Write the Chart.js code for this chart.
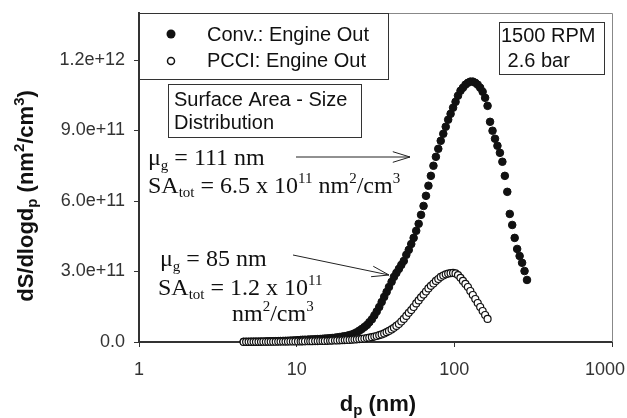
<!DOCTYPE html>
<html>
<head>
<meta charset="utf-8">
<script src="https://cdn.jsdelivr.net/npm/chart.js@4"></script>
<style>
  body { margin: 0; background: #fff; }
  #wrap { width: 627px; height: 418px; }
</style>
</head>
<body>
<div id="wrap"><canvas id="sizeChart" width="627" height="418"></canvas></div>
<script>
// particle diameter channels (nm)
const diam = [4.61,4.78,4.96,5.14,5.33,5.52,5.73,5.94,6.15,6.38,6.61,6.85,7.1,7.37,7.64,7.91,8.2,8.5,8.81,9.14,9.47,
  9.82,10.2,10.6,10.9,11.3,11.8,12.2,12.6,13.1,13.6,14.1,14.6,15.1,15.7,16.3,16.8,17.5,18.1,18.8,19.5,
  20.2,20.9,21.7,22.5,23.3,24.1,25.0,25.9,26.9,27.9,28.9,30.0,31.1,32.2,33.4,34.6,35.9,37.2,38.5,40.0,
  41.4,42.9,44.5,46.1,47.8,49.6,51.4,53.3,55.2,57.3,59.4,61.5,63.8,66.1,68.5,71.0,73.7,76.4,79.1,82.0,
  85.1,88.2,91.4,94.7,98.2,101.8,105.5,109.4,113.4,117.6,121.9,126.3,131.0,135.8,140.7,145.9,151.2,156.8,162.5,168.5,
  174.7,181.1,187.7,194.6,201.7,209.1,216.7,224.7,232.9,241.4,250.3,259.5,269.0,278.8,289.0];

// dS/dlogDp, in units of 1e9 nm2/cm3
const convS = [1.1,1.2,1.3,1.4,1.5,1.7,1.9,2.0,2.3,2.5,2.7,2.9,3.2,3.5,3.8,4.2,4.6,5.0,5.5,6.0,6.5,7.1,7.8,
  8.5,9.4,9.8,10.2,10.7,11.1,11.9,12.4,12.8,13.6,14.5,15.3,16.2,17,18.3,19.6,21.3,23,24.7,26.8,29.4,32.4,36.6,41.7,
  48.6,55.4,63.9,72.4,84.3,96.7,113,130,149,170,192,213,234,256,277,294,311,328,345,371,392,417,443,473,503,541,
  579,622,665,707,750,788,822,856,886,916,946,971,997,1022,1048,1069,1082,1095,1103,1108,1108,1103,1095,1082,1065,
  1039,1005,937,899,865,835,805,767,707,639,545,498,443,396,366,337,302,264];

const pcciS = [0.5,0.55,0.6,0.65,0.7,0.75,0.8,0.9,1.0,1.1,1.2,1.3,1.4,1.5,1.6,1.7,1.8,1.9,2.0,2.1,2.2,2.3,2.5,2.6,2.8,
  3.0,3.2,3.4,3.6,3.8,4.0,4.3,4.5,4.7,5.1,5.5,6.0,6.4,6.8,7.2,7.7,8.1,8.5,8.9,9.8,10.7,11.5,12.4,13.6,14.9,16.6,
  18.3,20.4,23.0,25.6,29.0,32.4,36.6,41.7,47.3,53.7,60.5,68.2,76.7,87.3,98,111,124,136,149,164,177,190,202,215,
  228,239,249,260,268,277,283,288,291,293,294,292,285,273,260,247,234,217,200,183,166,149,132,115,98];

const seriesNames = ["Conv.: Engine Out", "PCCI: Engine Out"];
const xTicks = [1, 10, 100, 1000];
const xTickLabels = ["1", "10", "100", "1000"];
const yTicks = [0, 3e11, 6e11, 9e11, 1.2e12];
const yTickLabels = ["0.0", "3.0e+11", "6.0e+11", "9.0e+11", "1.2e+12"];

const SANS = "'Liberation Sans', Arial, sans-serif";
const SERIF = "'Liberation Serif', 'Times New Roman', serif";

function pts(ys) {
  return ys.map((v, i) => ({ x: diam[i], y: v * 1e9 }));
}

// draw text with sub/superscripts: parts = [text, size, dy]
function rich(ctx, x, y, parts, family, bold, center) {
  let w = 0;
  parts.forEach(p => {
    ctx.font = (bold ? "bold " : "") + p[1] + "px " + family;
    w += ctx.measureText(p[0]).width;
  });
  let cx = center ? x - w / 2 : x;
  ctx.textAlign = "left";
  ctx.textBaseline = "alphabetic";
  parts.forEach(p => {
    ctx.font = (bold ? "bold " : "") + p[1] + "px " + family;
    ctx.fillText(p[0], cx, y + p[2]);
    cx += ctx.measureText(p[0]).width;
  });
}

function arrow(ctx, x1, y1, x2, y2) {
  const a = Math.atan2(y2 - y1, x2 - x1);
  const len = 18, hw = 0.3;
  ctx.beginPath();
  ctx.moveTo(x1, y1);
  ctx.lineTo(x2, y2);
  ctx.moveTo(x2 - len * Math.cos(a - hw), y2 - len * Math.sin(a - hw));
  ctx.lineTo(x2, y2);
  ctx.lineTo(x2 - len * Math.cos(a + hw), y2 - len * Math.sin(a + hw));
  ctx.stroke();
}

function box(ctx, x, y, w, h) {
  ctx.fillStyle = "#fff";
  ctx.fillRect(x, y, w, h);
  ctx.strokeStyle = "#333";
  ctx.lineWidth = 1;
  ctx.strokeRect(x + 0.5, y + 0.5, w, h);
}

const decor = {
  id: "decor",
  beforeDatasetsDraw(chart) {
    const ctx = chart.ctx, a = chart.chartArea;
    ctx.save();
    ctx.strokeStyle = "#888";
    ctx.lineWidth = 1;
    ctx.beginPath();
    ctx.moveTo(a.left, a.top + 0.5);
    ctx.lineTo(a.right + 0.5, a.top + 0.5);
    ctx.lineTo(a.right + 0.5, a.bottom);
    ctx.stroke();
    ctx.restore();
  },
  afterDraw(chart) {
    const ctx = chart.ctx, a = chart.chartArea;
    ctx.save();

    // x tick labels (last one kept inside the canvas)
    const xs = chart.scales.x;
    ctx.fillStyle = "#333";
    ctx.font = "18px " + SANS;
    ctx.textAlign = "center";
    ctx.textBaseline = "middle";
    xTicks.forEach((v, i) => {
      const w = ctx.measureText(xTickLabels[i]).width;
      let px = xs.getPixelForValue(v);
      px = Math.min(px, 625 - w / 2);
      ctx.fillText(xTickLabels[i], px, 370);
    });

    // legend
    box(ctx, a.left, a.top, 249, 66);
    ctx.fillStyle = "#111";
    ctx.beginPath();
    ctx.arc(171, 34, 4.5, 0, Math.PI * 2);
    ctx.fill();
    ctx.strokeStyle = "#111";
    ctx.lineWidth = 1.5;
    ctx.beginPath();
    ctx.arc(171, 61, 3.5, 0, Math.PI * 2);
    ctx.stroke();
    ctx.font = "20px " + SANS;
    ctx.textBaseline = "middle";
    ctx.textAlign = "left";
    ctx.fillText(seriesNames[0], 207, 35);
    ctx.fillText(seriesNames[1], 207, 61);

    // text boxes
    box(ctx, 168, 84, 193, 53);
    ctx.fillStyle = "#111";
    ctx.font = "20px " + SANS;
    ctx.textBaseline = "middle";
    ctx.fillText("Surface Area - Size", 174, 100);
    ctx.fillText("Distribution", 174, 123);

    box(ctx, 499, 22, 105, 52);
    ctx.fillStyle = "#111";
    ctx.fillText("1500 RPM", 501, 36);
    ctx.fillText(" 2.6 bar", 502, 61);

    // annotations
    ctx.fillStyle = "#111";
    rich(ctx, 148, 165, [["\u03bc", 24, 0], ["g", 15, 5], [" = 111 nm", 24, 0]], SERIF);
    rich(ctx, 148, 193, [["SA", 24, 0], ["tot", 15, 4], [" = 6.5 x 10", 24, 0], ["11", 15, -10],
      [" nm", 24, 0], ["2", 15, -10], ["/cm", 24, 0], ["3", 15, -10]], SERIF);
    rich(ctx, 160, 266, [["\u03bc", 24, 0], ["g", 15, 5], [" = 85 nm", 24, 0]], SERIF);
    rich(ctx, 158, 295, [["SA", 24, 0], ["tot", 15, 4], [" = 1.2 x 10", 24, 0], ["11", 15, -10]], SERIF);
    rich(ctx, 232, 321, [["nm", 24, 0], ["2", 15, -10], ["/cm", 24, 0], ["3", 15, -10]], SERIF);

    ctx.strokeStyle = "#222";
    ctx.lineWidth = 1;
    arrow(ctx, 296, 157, 410, 157);
    arrow(ctx, 293, 255, 389, 275);

    // axis titles
    ctx.fillStyle = "#111";
    rich(ctx, 378, 411, [["d", 22, 0], ["p", 15, 4], [" (nm)", 22, 0]], SANS, true, true);
    ctx.translate(33, 196);
    ctx.rotate(-Math.PI / 2);
    rich(ctx, 0, 0, [["dS/dlogd", 22, 0], ["p", 15, 4], [" (nm", 22, 0], ["2", 15, -9],
      ["/cm", 22, 0], ["3", 15, -9], [")", 22, 0]], SANS, true, true);
    ctx.restore();
  }
};

new Chart(document.getElementById("sizeChart"), {
  type: "scatter",
  data: {
    datasets: [
      {
        label: seriesNames[0],
        data: pts(convS),
        backgroundColor: "#111",
        borderColor: "#111",
        pointRadius: 3.8,
        borderWidth: 1,
        clip: false,
        order: 2
      },
      {
        label: seriesNames[1],
        data: pts(pcciS),
        backgroundColor: "#fff",
        borderColor: "#111",
        pointRadius: 3.5,
        borderWidth: 1.2,
        clip: false,
        order: 1
      }
    ]
  },
  options: {
    responsive: false,
    animation: false,
    devicePixelRatio: 1,
    layout: { padding: { left: 0, top: 13, right: 15, bottom: 0 } },
    plugins: { legend: { display: false }, tooltip: { enabled: false } },
    scales: {
      x: {
        type: "logarithmic",
        min: 1,
        max: 1000,
        border: { color: "#333", width: 2 },
        grid: { drawOnChartArea: false, drawTicks: true, tickLength: 5, color: "#333" },
        ticks: { display: false, autoSkip: false },
        afterBuildTicks: s => { s.ticks = xTicks.map(v => ({ value: v })); },
        afterFit: s => { s.height = 76; s.paddingLeft = 0; s.paddingRight = 0; }
      },
      y: {
        min: 0,
        max: 1.4e12,
        border: { color: "#333", width: 2 },
        grid: { drawOnChartArea: false, drawTicks: true, tickLength: 5, color: "#333" },
        ticks: {
          font: { family: SANS, size: 18 },
          color: "#333",
          padding: 9,
          callback: (v, i) => yTickLabels[i]
        },
        afterBuildTicks: s => { s.ticks = yTicks.map(v => ({ value: v })); },
        afterFit: s => { s.width = 139; s.paddingTop = 0; s.paddingBottom = 0; }
      }
    }
  },
  plugins: [decor]
});
</script>
</body>
</html>
